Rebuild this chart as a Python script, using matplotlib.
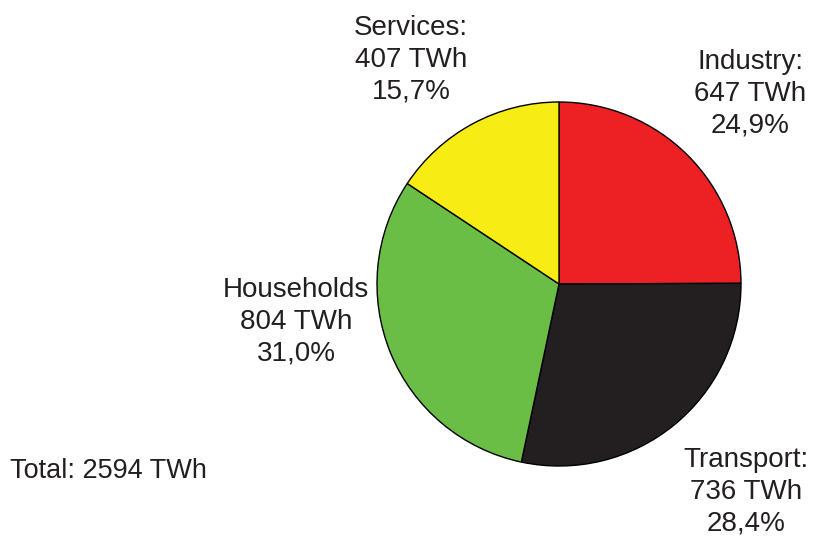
import matplotlib.pyplot as plt

plt.rcParams['font.family'] = ['Liberation Sans', 'DejaVu Sans']

sectors = ['Industry', 'Transport', 'Households', 'Services']
twh = [647, 736, 804, 407]
shares = ['24,9%', '28,4%', '31,0%', '15,7%']
colors = ['#ED2024', '#231F20', '#6ABD45', '#F7EC13']
total = 2594

fig = plt.figure(figsize=(8.13, 5.41), dpi=100)
ax = fig.add_axes([0, 0, 1, 1])
ax.set_xlim(0, 813)
ax.set_ylim(541, 0)
ax.set_aspect('equal')
ax.axis('off')

# y axis is flipped, so counterclock=True draws clockwise on screen
ax.pie(twh, colors=colors, startangle=-90, counterclock=True,
       center=(559, 284), radius=182,
       wedgeprops=dict(edgecolor='black', linewidth=1.0))
ax.set_xlim(0, 813)
ax.set_ylim(541, 0)

# label positions (centre of text block)
label_pos = {
    'Industry': (750, 94),
    'Transport': (746, 492),
    'Households': (296, 322),
    'Services': (411, 60),
}
for name, val, pct in zip(sectors, twh, shares):
    x, y = label_pos[name]
    colon = '' if name == 'Households' else ':'
    ax.text(x, y, f'{name}{colon}\n{val} TWh\n{pct}', ha='center', va='center',
            fontsize=20, linespacing=1.3, color='#231F20')

ax.text(10, 471, f'Total: {total} TWh', ha='left', va='center',
        fontsize=19.5, color='#231F20')

fig.savefig('out.png', dpi=100)
